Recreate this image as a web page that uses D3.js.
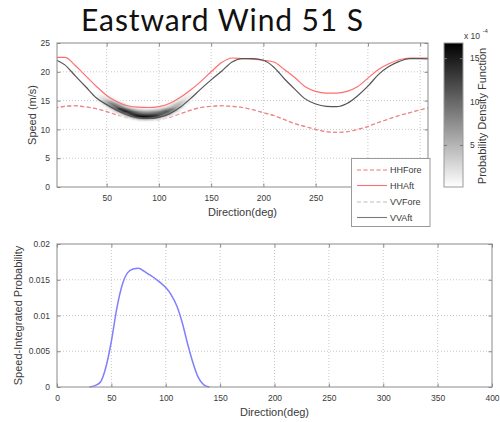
<!DOCTYPE html>
<html>
<head>
<meta charset="utf-8">
<script src="https://cdn.jsdelivr.net/npm/d3@7"></script>
<style>
  body { margin: 0; background: #fff; }
  svg { display: block; }
  text { font-family: "Liberation Sans", Arial, sans-serif; }
</style>
</head>
<body>
<svg id="chart" width="500" height="422"></svg>
<script>
// ---- Speed vs direction curves (m/s), sampled every 10 deg ----
const directions = [0, 10, 20, 30, 40, 50, 60, 70, 80, 90, 100, 110, 120, 130, 140, 150, 160, 170, 180,
                    190, 200, 210, 220, 230, 240, 250, 260, 270, 280, 290, 300, 310, 320, 330, 340, 350, 360];
const hhFore = [13.7, 14.0, 14.1, 13.9, 13.6, 13.1, 12.5, 12.0, 11.7, 11.6, 11.7, 12.1, 12.7, 13.3, 13.8, 14.0, 14.1, 14.0, 13.8,
                13.4, 12.9, 12.4, 11.7, 11.0, 10.5, 10.0, 9.6, 9.5, 9.6, 10.0, 10.5, 11.2, 11.8, 12.4, 12.9, 13.4, 13.8];
const hhAft  = [22.5, 22.5, 21.1, 19.3, 17.5, 15.9, 14.8, 14.1, 13.85, 13.8, 13.95, 14.5, 15.5, 16.8, 18.3, 20.0, 21.6, 22.4, 22.3,
                22.2, 22.0, 21.7, 20.4, 19.0, 17.4, 16.6, 16.3, 16.3, 16.6, 17.4, 18.9, 20.4, 21.4, 22.1, 22.4, 22.4, 22.4];
const vvFore = [13.7, 14.0, 14.1, 13.9, 13.6, 13.1, 12.5, 12.0, 11.7, 11.6, 11.7, 12.1, 12.7, 13.3, 13.8, 14.0, 14.1, 14.0, 13.8,
                13.4, 12.9, 12.4, 11.7, 11.0, 10.5, 10.0, 9.6, 9.5, 9.6, 10.0, 10.5, 11.2, 11.8, 12.4, 12.9, 13.4, 13.8];
const vvAft  = [22.2, 21.2, 19.3, 17.4, 15.5, 14.3, 13.3, 12.5, 12.0, 11.9, 12.1, 12.7, 13.8, 15.3, 17.0, 18.6, 20.1, 21.7, 22.3,
                22.3, 22.0, 20.8, 18.8, 17.0, 15.3, 14.4, 14.0, 13.95, 14.5, 15.8, 17.5, 19.5, 20.9, 21.8, 22.3, 22.3, 22.2];

// ---- Probability density of (direction, speed), x 1e-4 ----
const pdfDirs   = [35, 40, 45, 50, 55, 60, 65, 70, 75, 80, 85, 90, 95, 100, 105, 110, 115, 120, 125, 130, 135, 140];
const pdfPeak   = [0.2, 0.6, 2.8, 6.4, 11.0, 14.3, 16.0, 16.5, 16.6, 16.2, 15.7, 15.2, 14.6, 13.9, 12.9, 11.4, 9.1, 6.1, 3.4, 1.3, 0.3, 0.0];
const pdfCenter = [16.8, 15.9, 15.2, 14.7, 14.2, 13.7, 13.3, 12.9, 12.6, 12.4, 12.3, 12.3, 12.4, 12.5, 12.8, 13.1, 13.6, 14.2, 14.9, 15.7, 16.5, 17.4];
const pdfSpreadBelow = 0.35;   // m/s
const pdfSpreadAbove = 0.6;    // m/s

// ---- Speed-integrated probability ----
const probDirs = [30, 35, 40, 45, 50, 55, 60, 65, 70, 75, 80, 85, 90, 95, 100, 105, 110, 115, 120, 125, 130, 135, 140];
const probVals = [0, 0.0002, 0.0007, 0.0028, 0.0064, 0.0110, 0.0143, 0.0160, 0.0165, 0.0166, 0.0162, 0.0157, 0.0152,
                  0.0146, 0.0139, 0.0129, 0.0114, 0.0091, 0.0061, 0.0034, 0.0013, 0.0003, 0];

// ---- Tick labels ----
const topXTicks = [50, 100, 150, 200, 250, 300, 350];
const topXLabelled = [50, 100, 150, 200, 250];   // 300 and 350 sit behind the legend
const topYTicks = [0, 5, 10, 15, 20, 25];
const cbarTicks = [5, 10, 15];
const botXTicks = [0, 50, 100, 150, 200, 250, 300, 350, 400];
const botYTicks = [0, 0.005, 0.01, 0.015, 0.02];

const legendItems = [
  { name: "HHFore", color: "#ff6e6e", dash: "4,2.5" },
  { name: "HHAft",  color: "#ff6e6e", dash: null },
  { name: "VVFore", color: "#bdbdbd", dash: "4,2.5" },
  { name: "VVAft",  color: "#7a7a7a", dash: null }
];

const svg = d3.select("#chart");
const axisColor = "#8a8a8a";
const gridColor = "#c8c8c8";
const textColor = "#3a3a3a";

// Title
svg.append("text")
  .attr("x", 222.5).attr("y", 30.5)
  .attr("text-anchor", "middle")
  .style("font-family", "Lato, 'Open Sans', sans-serif")
  .style("font-size", "30px")
  .style("letter-spacing", "0.9px")
  .attr("fill", "#111")
  .text("Eastward Wind 51 S");

function drawFrame(g, x, y, xTicks, yTicks, xFmt, yFmt) {
  const [x0, x1] = x.range();
  const [yb, yt] = y.range();
  // dotted grid
  g.append("g").selectAll("line").data(xTicks.filter(t => x(t) > x0 + 1 && x(t) < x1 - 1)).join("line")
    .attr("x1", d => x(d)).attr("x2", d => x(d)).attr("y1", yt).attr("y2", yb)
    .attr("stroke", gridColor).attr("stroke-dasharray", "1,2");
  g.append("g").selectAll("line").data(yTicks.filter(t => y(t) < yb - 1 && y(t) > yt + 1)).join("line")
    .attr("y1", d => y(d)).attr("y2", d => y(d)).attr("x1", x0).attr("x2", x1)
    .attr("stroke", gridColor).attr("stroke-dasharray", "1,2");

  // axes with inward ticks
  const ax = g.append("g").attr("transform", `translate(0,${yb})`)
    .call(d3.axisBottom(x).tickValues(xTicks).tickFormat(xFmt).tickSize(-3.5).tickPadding(8));
  const ay = g.append("g").attr("transform", `translate(${x0},0)`)
    .call(d3.axisLeft(y).tickValues(yTicks).tickFormat(yFmt).tickSize(-3.5).tickPadding(7));
  const axT = g.append("g").attr("transform", `translate(0,${yt})`)
    .call(d3.axisTop(x).tickValues(xTicks).tickFormat("").tickSize(-3.5));
  const ayR = g.append("g").attr("transform", `translate(${x1},0)`)
    .call(d3.axisRight(y).tickValues(yTicks).tickFormat("").tickSize(-3.5));
  [ax, ay, axT, ayR].forEach(a => {
    a.select(".domain").remove();
    a.selectAll(".tick line").attr("stroke", axisColor);
    a.selectAll(".tick text").attr("fill", textColor).style("font-size", "8.5px")
      .style("font-family", "'Liberation Sans', Arial, sans-serif");
  });
  return { ax, ay };
}

function frameBox(g, x, y) {
  const [x0, x1] = x.range();
  const [yb, yt] = y.range();
  g.append("rect").attr("x", x0).attr("y", yt).attr("width", x1 - x0).attr("height", yb - yt)
    .attr("fill", "none").attr("stroke", axisColor).attr("stroke-width", 1);
}

// ================= Top panel =================
const xTop = d3.scaleLinear().domain([2.5, 357.5]).range([57, 428]);
const yTop = d3.scaleLinear().domain([0, 25]).range([187, 43]);
const gTop = svg.append("g");

const defs = svg.append("defs");
defs.append("clipPath").attr("id", "clipTop").append("rect")
  .attr("x", 57).attr("y", 43).attr("width", 371).attr("height", 144);
const blur = defs.append("filter").attr("id", "soft").attr("x", "-20%").attr("y", "-20%")
  .attr("width", "140%").attr("height", "140%");
blur.append("feGaussianBlur").attr("stdDeviation", "2.4 0.7");

const topFmt = d => topXLabelled.includes(d) ? String(d) : "";
drawFrame(gTop, xTop, yTop, topXTicks, topYTicks, topFmt, d3.format("d"));

const lineTop = vals => d3.line()
  .x((d, i) => xTop(directions[i]))
  .y(d => yTop(d))
  .curve(d3.curveMonotoneX)(vals);

const plotTop = gTop.append("g").attr("clip-path", "url(#clipTop)");

// forecast curves (VVFore sits under HHFore)
plotTop.append("path").attr("d", lineTop(vvFore)).attr("fill", "none")
  .attr("stroke", "#bdbdbd").attr("stroke-width", 1.1).attr("stroke-dasharray", "4,2.5");
plotTop.append("path").attr("d", lineTop(hhFore)).attr("fill", "none")
  .attr("stroke", "#ff7a7a").attr("stroke-width", 1.1).attr("stroke-dasharray", "4,2.5");

// probability density field
const pdfColor = d3.scaleLinear().domain([0.15, 16.75]).range(["#ffffff", "#000000"]).clamp(true);
const speedRows = [];
for (let s = 8; s < 20; s += 0.2) speedRows.push(+s.toFixed(1));
const cells = [];
pdfDirs.forEach((d, i) => {
  speedRows.forEach(s => {
    const mid = s + 0.1;
    const sd = mid < pdfCenter[i] ? pdfSpreadBelow : pdfSpreadAbove;
    const v = pdfPeak[i] * Math.exp(-Math.pow(mid - pdfCenter[i], 2) / (2 * sd * sd));
    if (v > 0.25) cells.push({ d, s, v });
  });
});
plotTop.append("g").attr("filter", "url(#soft)")
  .selectAll("rect").data(cells).join("rect")
  .attr("x", c => xTop(c.d - 2.5))
  .attr("width", c => xTop(c.d + 2.5) - xTop(c.d - 2.5) + 0.3)
  .attr("y", c => yTop(c.s + 0.2))
  .attr("height", c => yTop(c.s) - yTop(c.s + 0.2) + 0.3)
  .attr("fill", c => pdfColor(c.v));

// after-correction curves
plotTop.append("path").attr("d", lineTop(hhAft)).attr("fill", "none")
  .attr("stroke", "#ff6e6e").attr("stroke-width", 1.2);
plotTop.append("path").attr("d", lineTop(vvAft)).attr("fill", "none")
  .attr("stroke", "#555").attr("stroke-width", 1.2);

frameBox(gTop, xTop, yTop);

gTop.append("text").attr("x", 242.5).attr("y", 216)
  .attr("text-anchor", "middle").attr("fill", textColor).style("font-size", "11px")
  .text("Direction(deg)");
gTop.append("text").attr("transform", "translate(36,115) rotate(-90)")
  .attr("text-anchor", "middle").attr("fill", textColor).style("font-size", "11px")
  .text("Speed (m/s)");

// legend
const lg = gTop.append("g");
lg.append("rect").attr("x", 351.5).attr("y", 158.5).attr("width", 78.5).attr("height", 68)
  .attr("fill", "#fff").attr("stroke", "#9a9a9a");
const rowY = [170, 185.5, 202, 217.5];
legendItems.forEach((it, i) => {
  lg.append("line").attr("x1", 357).attr("x2", 387).attr("y1", rowY[i]).attr("y2", rowY[i])
    .attr("stroke", it.color).attr("stroke-width", 1.1)
    .attr("stroke-dasharray", it.dash);
  lg.append("text").attr("x", 390).attr("y", rowY[i] + 3.3)
    .attr("fill", textColor).style("font-size", "9px").text(it.name);
});

// colorbar
const cbar = d3.scaleLinear().domain([0.15, 16.75]).range([187, 43]);
const grad = defs.append("linearGradient").attr("id", "cbarGrad")
  .attr("x1", 0).attr("x2", 0).attr("y1", 1).attr("y2", 0);
grad.append("stop").attr("offset", "0%").attr("stop-color", pdfColor(0.15));
grad.append("stop").attr("offset", "100%").attr("stop-color", pdfColor(16.75));
const gc = svg.append("g");
gc.append("rect").attr("x", 444).attr("y", 43).attr("width", 19).attr("height", 144)
  .attr("fill", "url(#cbarGrad)").attr("stroke", "#9a9a9a");
const cL = gc.append("g").attr("transform", "translate(444,0)")
  .call(d3.axisLeft(cbar).tickValues(cbarTicks).tickSize(-3).tickFormat(""));
const cR = gc.append("g").attr("transform", "translate(463,0)")
  .call(d3.axisRight(cbar).tickValues(cbarTicks).tickSize(-3).tickPadding(7).tickFormat(d3.format("d")));
[cL, cR].forEach(a => {
  a.select(".domain").remove();
  a.selectAll(".tick line").attr("stroke", "#777");
  a.selectAll(".tick text").attr("fill", textColor).style("font-size", "8.5px")
    .style("font-family", "'Liberation Sans', Arial, sans-serif");
});
gc.append("text").attr("x", 464).attr("y", 38.5).attr("fill", textColor)
  .style("font-size", "8.5px").text("x 10");
gc.append("text").attr("x", 482.5).attr("y", 33).attr("fill", textColor)
  .style("font-size", "6px").text("-4");
gc.append("text").attr("transform", "translate(486,116) rotate(-90)")
  .attr("text-anchor", "middle").attr("fill", textColor).style("font-size", "11px")
  .text("Probability Density Function");

// ================= Bottom panel =================
const xBot = d3.scaleLinear().domain([0, 400]).range([57, 492]);
const yBot = d3.scaleLinear().domain([0, 0.02]).range([387, 244]);
const gBot = svg.append("g");
const fmtBotY = d => d === 0 ? "0" : d3.format("")(+d.toFixed(3));
drawFrame(gBot, xBot, yBot, botXTicks, botYTicks, d3.format("d"), fmtBotY);

gBot.append("path")
  .attr("d", d3.line().x((d, i) => xBot(probDirs[i])).y(d => yBot(d)).curve(d3.curveMonotoneX)(probVals))
  .attr("fill", "none").attr("stroke", "#7f7fff").attr("stroke-width", 1.5);

frameBox(gBot, xBot, yBot);

gBot.append("text").attr("x", 274.5).attr("y", 416)
  .attr("text-anchor", "middle").attr("fill", textColor).style("font-size", "11px")
  .text("Direction(deg)");
gBot.append("text").attr("transform", "translate(22,315.5) rotate(-90)")
  .attr("text-anchor", "middle").attr("fill", textColor).style("font-size", "11px")
  .text("Speed-Integrated Probability");
</script>
</body>
</html>
